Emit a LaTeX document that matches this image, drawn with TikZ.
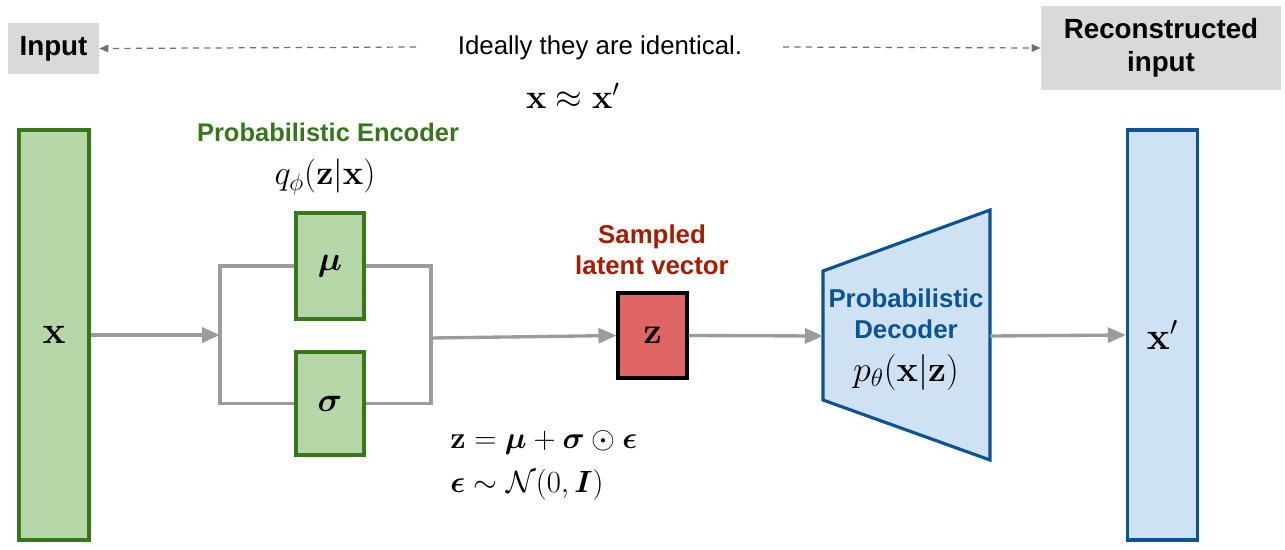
\RequirePackage{fix-cm}
\documentclass[tikz,border=0pt]{standalone}
\usepackage{amsmath}
\usepackage[no-math]{fontspec}
\setsansfont{Liberation Sans}
\usepackage{tikz}
\usetikzlibrary{arrows.meta}
\usetikzlibrary{positioning}
\usetikzlibrary{calc}
\tikzset{>=latex}

\definecolor{encgreen}{HTML}{38761D}
\definecolor{encfill}{HTML}{B6D7A8}
\definecolor{zred}{HTML}{E06666}
\definecolor{zcaption}{HTML}{A61C00}
\definecolor{decblue}{HTML}{0B5394}
\definecolor{decfill}{HTML}{CFE2F3}
\definecolor{boxgray}{HTML}{D9D9D9}
\definecolor{flowgray}{HTML}{9B9B9B}
\definecolor{hintgray}{HTML}{707070}

\tikzset{
    greybox/.style={fill=boxgray, align=center, inner sep=0pt,
        font=\sffamily\bfseries\fontsize{15.8}{19}\selectfont},
    layer/.style={draw, line width=1.8pt, minimum width=1.4cm,
        minimum height=8.2cm, inner sep=0pt,
        font=\fontsize{22}{26}\selectfont},
    unit/.style={draw, line width=1.8pt, minimum width=1.36cm,
        inner sep=0pt, font=\fontsize{19.5}{22}\selectfont},
    flow/.style={draw=flowgray, line width=1.9pt,
        -{Triangle[length=0.36cm,width=0.3cm]}},
    wire/.style={draw=flowgray, line width=1.9pt},
    hint/.style={draw=hintgray, line width=0.7pt, dash pattern=on 3.5pt off 3pt,
        -{Triangle[length=0.18cm,width=0.15cm]}},
    caption/.style={align=center, inner sep=0pt,
        font=\sffamily\bfseries\fontsize{14.7}{17.6}\selectfont},
    eqtext/.style={inner sep=0pt, font=\fontsize{17.5}{20}\selectfont},
}

\begin{document}
\begin{tikzpicture}[x=0.02cm, y=-0.02cm]
    \useasboundingbox (0,0) rectangle (1285,549);

    % top row
    \node[greybox, minimum width=1.82cm, minimum height=1.02cm] (input) at (53.5,48.5) {Input};
    \node[greybox, minimum width=4.8cm, minimum height=1.68cm] (recon) at (1161,48) {Reconstructed\\input};
    \node[font=\sffamily\fontsize{14.7}{17}\selectfont] (ideal) at (600,48) {Ideally they are identical.};
    \node[font=\fontsize{19.5}{22}\selectfont] (same) at (573,96) {$\mathbf{x}\approx\mathbf{x}'$};
    \coordinate (hintl) at (416,47);
    \coordinate (hintr) at (783,47);
    \draw[hint] (hintl) -- (input.east);
    \draw[hint] (hintr) -- (recon.west);

    % encoder
    \node[layer, draw=encgreen, fill=encfill] (xin) at (54,335) {$\mathbf{x}$};
    \node[caption, text=encgreen, font=\sffamily\bfseries\fontsize{14.5}{17}\selectfont] (enc) at (328,132) {Probabilistic Encoder};
    \node[font=\fontsize{19.5}{22}\selectfont] (qphi) at (325,177) {$q_\phi(\mathbf{z}|\mathbf{x})$};
    \node[unit, draw=encgreen, fill=encfill, minimum height=2.12cm] (mu) at (330,266) {$\boldsymbol{\mu}$};
    \node[unit, draw=encgreen, fill=encfill, minimum height=2.06cm] (sigma) at (330,403.5) {$\boldsymbol{\sigma}$};
    \coordinate (encin) at (220,335);
    \coordinate (encout) at (431,338);
    \draw[wire] (mu.west) -| (encin) |- (sigma.west);
    \draw[wire] (mu.east) -| (encout) |- (sigma.east);
    \draw[flow] (xin.east) -- (encin);

    % sampled latent vector
    \node[unit, draw=black, fill=zred, minimum width=1.38cm, minimum height=1.7cm, font=\fontsize{21}{24}\selectfont] (z) at (652.5,335.5) {$\mathbf{z}$};
    \node[caption, text=zcaption] (zcap) at (652,250) {Sampled\\latent vector};
    \draw[flow] (encout) -- (z.west);
    \node[eqtext, anchor=west] (eqz) at (450,443) {$\mathbf{z}=\boldsymbol{\mu}+\boldsymbol{\sigma}\odot\boldsymbol{\epsilon}$};
    \node[eqtext, anchor=west] (eqeps) at (450,485) {$\boldsymbol{\epsilon}\sim\mathcal{N}(0,\boldsymbol{I})$};

    % decoder
    \coordinate (d1) at (823,271);
    \coordinate (d2) at (990,210);
    \coordinate (d3) at (990,460);
    \coordinate (d4) at (823,400);
    \draw[line width=1.8pt, draw=decblue, fill=decfill] (d1) -- (d2) -- (d3) -- (d4) -- cycle;
    \coordinate (decin) at (823,336);
    \coordinate (decout) at (990,336);
    \node[caption, text=decblue] (dec) at (906,314) {Probabilistic\\Decoder};
    \node[font=\fontsize{20.5}{24}\selectfont] (ptheta) at (906,372) {$p_\theta(\mathbf{x}|\mathbf{z})$};
    \draw[flow] (z.east) -- (decin);

    % output
    \node[layer, draw=decblue, fill=decfill] (xout) at (1162.5,335) {$\mathbf{x}'$};
    \draw[flow] (decout) -- (xout.west);
\end{tikzpicture}
\end{document}
